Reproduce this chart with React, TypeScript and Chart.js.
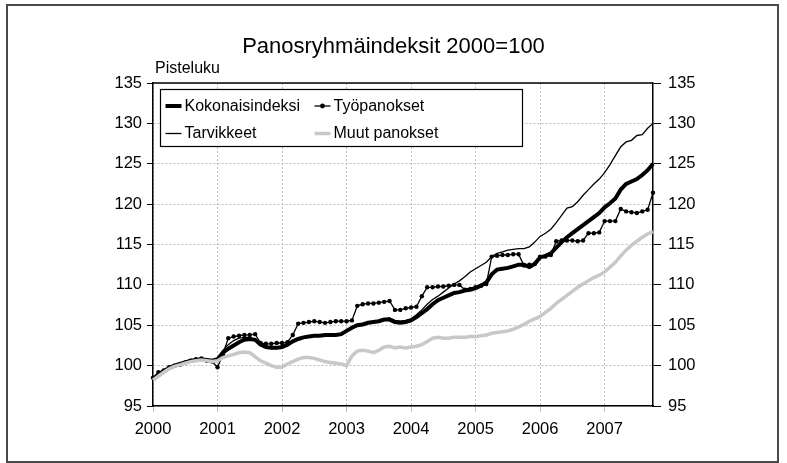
import { useEffect, useRef } from "react";
import { Chart, registerables } from "chart.js";

Chart.register(...registerables);

const FONT = '"Liberation Sans", Arial, sans-serif';

const TITLE = "Panosryhmäindeksit 2000=100";
const Y_TITLE = "Pisteluku";

// Monthly categories Jan 2000 .. Oct 2007
const years = ["2000", "2001", "2002", "2003", "2004", "2005", "2006", "2007"];
const monthNames = ["01", "02", "03", "04", "05", "06", "07", "08", "09", "10", "11", "12"];
const lastMonthOf2007 = 10;
const months: string[] = [];
years.forEach((y) => {
  monthNames.forEach((m, i) => {
    if (y === "2007" && i >= lastMonthOf2007) return;
    months.push(`${y}-${m}`);
  });
});

const yMin = 95;
const yMax = 135;
const yStep = 5;

const kokonaisindeksi = [
  98.3, 98.8, 99.3, 99.7, 100.0, 100.2, 100.4, 100.6, 100.7, 100.8, 100.7, 100.6,
  100.8, 101.6, 102.1, 102.5, 102.9, 103.2, 103.3, 103.2, 102.6, 102.3, 102.2, 102.2,
  102.3, 102.6, 103.0, 103.3, 103.5, 103.6, 103.7, 103.7, 103.8, 103.8, 103.8, 103.9,
  104.3, 104.7, 105.0, 105.1, 105.3, 105.4, 105.5, 105.7, 105.7, 105.4, 105.3, 105.4,
  105.6, 106.0, 106.5, 107.0, 107.6, 108.1, 108.4, 108.7, 109.0, 109.1, 109.3, 109.4,
  109.6, 109.9, 110.3, 111.3, 111.9, 112.0, 112.1, 112.3, 112.5, 112.5, 112.2, 112.6,
  113.4, 113.6, 113.9, 114.6, 115.3, 115.9, 116.4, 116.9, 117.4, 117.9, 118.4, 118.9,
  119.6, 120.1, 120.7, 121.8, 122.5, 122.8, 123.1, 123.6, 124.2, 125.0,
];

const tyopanokset = [
  98.5, 99.2, 99.4, 99.8, 100.0, 100.1, 100.4, 100.6, 100.8, 100.9, 100.6, 100.5,
  99.8, 101.4, 103.4, 103.6, 103.7, 103.8, 103.8, 103.9, 102.8, 102.7, 102.7, 102.8,
  102.8, 102.9, 103.8, 105.2, 105.3, 105.4, 105.5, 105.4, 105.3, 105.4, 105.5, 105.5,
  105.5, 105.6, 107.4, 107.6, 107.7, 107.7, 107.8, 107.9, 108.0, 106.9, 106.9, 107.1,
  107.2, 107.3, 108.6, 109.7, 109.7, 109.8, 109.8, 109.9, 110.0, 110.0, 109.4, 109.5,
  109.7, 109.9, 110.1, 113.5, 113.6, 113.7, 113.7, 113.8, 113.8, 112.4, 112.5, 112.6,
  113.5, 113.5, 113.7, 115.4, 115.5, 115.5, 115.5, 115.4, 115.5, 116.4, 116.4, 116.5,
  117.9, 117.9, 117.9, 119.4, 119.1, 119.0, 118.9, 119.1, 119.3, 121.4,
];

const tarvikkeet = [
  98.2, 98.7, 99.2, 99.7, 100.0, 100.2, 100.4, 100.6, 100.7, 100.9, 100.8, 100.7,
  100.9, 101.9, 102.6, 103.1, 103.4, 103.5, 103.5, 103.2, 102.6, 102.3, 102.1, 102.1,
  102.2, 102.5, 102.9, 103.3, 103.5, 103.6, 103.7, 103.7, 103.7, 103.8, 103.8, 103.9,
  104.3, 104.8, 105.0, 105.2, 105.3, 105.5, 105.6, 105.8, 105.9, 105.6, 105.5, 105.6,
  105.8, 106.3, 106.9, 107.6, 108.2, 108.6, 109.1, 109.6, 110.1, 110.5, 111.0, 111.6,
  112.0, 112.4, 112.8, 113.5, 113.9, 114.1, 114.3, 114.4, 114.5, 114.5, 114.7, 115.3,
  116.0, 116.4, 116.9, 117.7, 118.6, 119.5, 119.7, 120.3, 121.1, 121.8, 122.5, 123.1,
  123.9, 124.9, 126.0, 127.1, 127.7, 127.9, 128.5, 128.6, 129.4, 130.0,
];

const muutPanokset = [
  98.2, 98.7, 99.2, 99.6, 99.9, 100.1, 100.3, 100.5, 100.6, 100.7, 100.6, 100.5,
  100.6, 101.0, 101.2, 101.4, 101.6, 101.7, 101.6, 101.1, 100.6, 100.3, 100.0, 99.8,
  99.8, 100.2, 100.5, 100.8, 101.0, 101.0, 100.9, 100.7, 100.5, 100.4, 100.3, 100.2,
  100.0, 101.2, 101.8, 101.9, 101.8, 101.6, 101.9, 102.3, 102.4, 102.2, 102.3, 102.2,
  102.3, 102.4, 102.6, 103.0, 103.4, 103.5, 103.4, 103.4, 103.5, 103.5, 103.5, 103.6,
  103.6, 103.7, 103.8, 104.0, 104.1, 104.2, 104.3, 104.5, 104.8, 105.1, 105.5, 105.8,
  106.1, 106.6, 107.1, 107.7, 108.2, 108.7, 109.2, 109.7, 110.1, 110.5, 110.9, 111.2,
  111.6, 112.2, 112.8, 113.6, 114.3, 114.9, 115.4, 115.9, 116.3, 116.6,
];

const seriesNames = ["Kokonaisindeksi", "Työpanokset", "Tarvikkeet", "Muut panokset"];

const BLACK = "#000000";
const GREY_LINE = "#c8c8c8";
const GRID = "#bdbdbd";

const decorPlugin = {
  id: "decor",
  beforeDraw(chart: any) {
    const { ctx, width, height } = chart;
    ctx.save();
    ctx.fillStyle = "#ffffff";
    ctx.fillRect(0, 0, width, height);
    ctx.strokeStyle = "#4a4a4a";
    ctx.lineWidth = 2;
    ctx.strokeRect(7, 5, width - 16, height - 6);
    ctx.restore();
  },
  afterDatasetsDraw(chart: any) {
    const { ctx, chartArea } = chart;
    const { left, right, top } = chartArea;
    ctx.save();
    ctx.strokeStyle = BLACK;
    ctx.lineWidth = 1.5;
    ctx.beginPath();
    ctx.moveTo(left, top);
    ctx.lineTo(right, top);
    ctx.stroke();

    ctx.fillStyle = BLACK;
    ctx.font = `16px ${FONT}`;
    ctx.textAlign = "left";
    ctx.textBaseline = "alphabetic";
    ctx.fillText(Y_TITLE, left + 2, top - 10);

    const bx = left + 7.5;
    const by = top + 6.5;
    const bw = 362;
    const bh = 57;
    ctx.fillStyle = "#ffffff";
    ctx.fillRect(bx, by, bw, bh);
    ctx.strokeStyle = BLACK;
    ctx.lineWidth = 1.2;
    ctx.strokeRect(bx, by, bw, bh);

    const rows = [by + 16.5, by + 44];
    const cols = [bx + 5, bx + 154];
    const items = [
      { name: seriesNames[0], col: 0, row: 0, width: 4, color: BLACK, dot: false },
      { name: seriesNames[1], col: 1, row: 0, width: 1.3, color: BLACK, dot: true },
      { name: seriesNames[2], col: 0, row: 1, width: 1.3, color: BLACK, dot: false },
      { name: seriesNames[3], col: 1, row: 1, width: 3.5, color: GREY_LINE, dot: false },
    ];
    items.forEach((it) => {
      const x0 = cols[it.col];
      const y0 = rows[it.row];
      ctx.strokeStyle = it.color;
      ctx.lineWidth = it.width;
      ctx.beginPath();
      ctx.moveTo(x0, y0);
      ctx.lineTo(x0 + 16, y0);
      ctx.stroke();
      if (it.dot) {
        ctx.fillStyle = BLACK;
        ctx.beginPath();
        ctx.arc(x0 + 8, y0, 2.4, 0, Math.PI * 2);
        ctx.fill();
      }
      ctx.fillStyle = BLACK;
      ctx.font = `16px ${FONT}`;
      ctx.textAlign = "left";
      ctx.textBaseline = "middle";
      ctx.fillText(it.name, x0 + 19, y0 + 0.5);
    });
    ctx.restore();
  },
};

export default function App() {
  const canvasRef = useRef<HTMLCanvasElement | null>(null);

  useEffect(() => {
    document.body.style.margin = "0";
    const canvas = canvasRef.current;
    if (!canvas) return;

    const tickFont = { family: FONT, size: 16.5, weight: "normal" as const };

    const chart = new Chart(canvas, {
      type: "line",
      data: {
        labels: months,
        datasets: [
          {
            label: seriesNames[3],
            data: muutPanokset,
            borderColor: GREY_LINE,
            borderWidth: 3.5,
            pointRadius: 0,
            tension: 0,
          },
          {
            label: seriesNames[2],
            data: tarvikkeet,
            borderColor: BLACK,
            borderWidth: 1.3,
            pointRadius: 0,
            tension: 0,
          },
          {
            label: seriesNames[1],
            data: tyopanokset,
            borderColor: BLACK,
            borderWidth: 1.3,
            pointRadius: 2.2,
            pointBackgroundColor: BLACK,
            pointBorderWidth: 0,
            tension: 0,
          },
          {
            label: seriesNames[0],
            data: kokonaisindeksi,
            borderColor: BLACK,
            borderWidth: 4,
            pointRadius: 0,
            tension: 0,
          },
        ],
      },
      options: {
        responsive: false,
        animation: false,
        devicePixelRatio: 1,
        layout: { padding: 0 },
        plugins: {
          legend: { display: false },
          tooltip: { enabled: false },
          title: {
            display: true,
            text: TITLE,
            color: BLACK,
            font: { family: FONT, size: 22, weight: "normal" },
            padding: { top: 34, bottom: 22.6 },
          },
        },
        scales: {
          x: {
            type: "category",
            offset: false,
            grid: {
              display: true,
              color: GRID,
              lineWidth: 1,
              drawTicks: true,
              tickLength: 6,
              tickColor: GRID,
            },
            border: { display: true, color: BLACK, width: 1.5, dash: [2, 2] },
            ticks: {
              autoSkip: false,
              maxRotation: 0,
              minRotation: 0,
              padding: 8,
              color: BLACK,
              font: tickFont,
              callback: function (this: any, value: any) {
                const lab = String(this.getLabelForValue(value));
                return lab.endsWith("-01") ? lab.slice(0, 4) : null;
              },
            },
            afterFit: (scale: any) => {
              scale.height = 57;
            },
          },
          y: {
            type: "linear",
            position: "left",
            min: yMin,
            max: yMax,
            grid: {
              color: GRID,
              lineWidth: 1,
              drawTicks: true,
              tickLength: 6,
              tickColor: BLACK,
            },
            border: { display: true, color: BLACK, width: 1.5, dash: [2, 2] },
            ticks: { stepSize: yStep, padding: 5, color: BLACK, font: tickFont },
            afterFit: (scale: any) => {
              scale.width = 153;
            },
          },
          y2: {
            type: "linear",
            position: "right",
            min: yMin,
            max: yMax,
            grid: {
              drawOnChartArea: false,
              drawTicks: true,
              tickLength: 8,
              tickColor: BLACK,
            },
            border: { display: true, color: BLACK, width: 1.5 },
            ticks: { stepSize: yStep, padding: 7, color: BLACK, font: tickFont },
            afterFit: (scale: any) => {
              scale.width = 134;
            },
          },
        },
      },
      plugins: [decorPlugin],
    });

    return () => {
      chart.destroy();
    };
  }, []);

  return (
    <div style={{ width: 787, height: 463 }}>
      <canvas ref={canvasRef} width={787} height={463} style={{ display: "block" }} />
    </div>
  );
}
